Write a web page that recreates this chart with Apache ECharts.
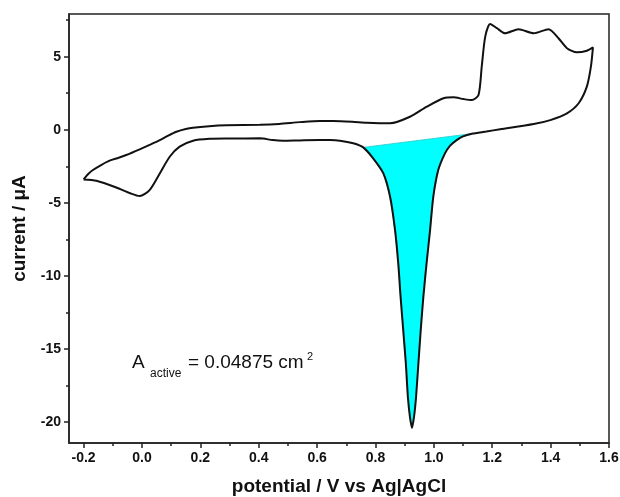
<!DOCTYPE html>
<html>
<head>
<meta charset="utf-8">
<script src="https://cdn.jsdelivr.net/npm/echarts@6/dist/echarts.min.js"></script>
<style>
  html, body { margin: 0; padding: 0; background: #fff; }
  #chart { width: 620px; height: 497px; }
</style>
</head>
<body>
<div id="chart"></div>
<script>
// 正向扫描 (anodic), 从 -0.2 V 开始
const anodicV = [-0.200, -0.185, -0.168, -0.140, -0.111, -0.080, -0.054, -0.008, 0.030, 0.061,
  0.090, 0.118, 0.150, 0.175, 0.230, 0.290, 0.404, 0.470, 0.541, 0.610,
  0.655, 0.720, 0.770, 0.850, 0.918, 0.976, 1.033, 1.067, 1.101, 1.130,
  1.153, 1.164, 1.176, 1.193, 1.216, 1.244, 1.290, 1.342, 1.393, 1.427,
  1.456, 1.490, 1.524, 1.545];
const anodicI = [-3.40, -3.05, -2.76, -2.42, -2.12, -1.92, -1.73, -1.34, -1.00, -0.71,
  -0.40, -0.14, 0.05, 0.14, 0.24, 0.30, 0.34, 0.40, 0.52, 0.60,
  0.60, 0.55, 0.48, 0.44, 0.89, 1.58, 2.15, 2.22, 2.10, 2.03,
  2.38, 4.32, 6.37, 7.24, 6.95, 6.60, 6.88, 6.60, 6.88, 6.26,
  5.58, 5.30, 5.41, 5.64];

// 反向扫描 (cathodic), 回到 -0.2 V
const cathodicV = [1.538, 1.524, 1.496, 1.456, 1.399, 1.342, 1.227, 1.180, 1.130, 1.100,
  1.078, 1.055, 1.038, 1.015, 0.998, 0.987, 0.975, 0.964, 0.955, 0.947,
  0.939, 0.932, 0.925, 0.918, 0.911, 0.904, 0.895, 0.886, 0.878, 0.867,
  0.850, 0.827, 0.792, 0.758, 0.724, 0.678, 0.644, 0.610, 0.540, 0.483,
  0.448, 0.404, 0.300, 0.232, 0.175, 0.129, 0.095, 0.061, 0.026, -0.008,
  -0.040, -0.088, -0.156, -0.200];
const cathodicI = [4.32, 2.95, 1.81, 1.12, 0.66, 0.39, 0.03, -0.12, -0.27, -0.45,
  -0.71, -1.10, -1.62, -2.76, -4.59, -6.87, -9.15, -11.44, -13.72, -16.00,
  -18.29, -19.66, -20.41, -19.66, -18.29, -16.00, -13.72, -11.44, -9.15, -6.87,
  -4.59, -2.99, -1.96, -1.21, -0.93, -0.75, -0.71, -0.71, -0.73, -0.75,
  -0.71, -0.59, -0.60, -0.62, -0.75, -1.16, -1.85, -2.99, -4.13, -4.54,
  -4.35, -3.95, -3.49, -3.40];

// 积分区域 (还原峰) 的电位范围
const fillFrom = 0.758;
const fillTo = 1.130;

// 刻度
const xMajor = [-0.2, 0.0, 0.2, 0.4, 0.6, 0.8, 1.0, 1.2, 1.4, 1.6];
const xMinor = [-0.1, 0.1, 0.3, 0.5, 0.7, 0.9, 1.1, 1.3, 1.5];
const yMajor = [-20, -15, -10, -5, 0, 5];
const yMinor = [-17.5, -12.5, -7.5, -2.5, 2.5, 7.5];

const loop = [];
anodicV.forEach((v, i) => loop.push([v, anodicI[i]]));
cathodicV.forEach((v, i) => loop.push([v, cathodicI[i]]));

const peakArea = [];
cathodicV.forEach((v, i) => {
  if (v >= fillFrom - 1e-9 && v <= fillTo + 1e-9) peakArea.push([v, cathodicI[i]]);
});

const FONT = "'Liberation Sans', Arial, Helvetica, sans-serif";
const INK = '#111';
const xRange = { min: -0.25, max: 1.6 };
const yRange = { min: -21.44, max: 7.92 };

const chart = echarts.init(document.getElementById('chart'));
chart.setOption({
  animation: false,
  backgroundColor: '#fff',
  grid: {
    left: 69, right: 11, top: 14, bottom: 54,
    show: true, borderColor: '#222', borderWidth: 1.5,
    outerBoundsMode: 'none'
  },
  xAxis: [
    {
      type: 'value', position: 'bottom', ...xRange,
      name: 'potential / V vs Ag|AgCl', nameLocation: 'middle', nameGap: 34,
      nameTextStyle: { fontFamily: FONT, fontWeight: 'bold', fontSize: 19, color: INK },
      axisLine: { show: true, onZero: false, lineStyle: { color: '#222', width: 1.5 } },
      axisTick: { show: true, inside: false, length: 5, customValues: xMajor, lineStyle: { color: '#222', width: 1.5 } },
      axisLabel: {
        customValues: xMajor, margin: 8,
        formatter: v => v.toFixed(1),
        fontFamily: FONT, fontWeight: 'bold', fontSize: 14, color: INK
      },
      splitLine: { show: false }
    },
    {
      type: 'value', position: 'bottom', ...xRange,
      axisLine: { show: false, onZero: false },
      axisTick: { show: true, inside: false, length: 3, customValues: xMinor, lineStyle: { color: '#222', width: 1.5 } },
      axisLabel: { show: false },
      splitLine: { show: false }
    }
  ],
  yAxis: [
    {
      type: 'value', position: 'left', ...yRange,
      name: 'current / \u03bcA', nameLocation: 'middle', nameGap: 40, nameRotate: 90,
      nameTextStyle: { fontFamily: FONT, fontWeight: 'bold', fontSize: 19, color: INK },
      axisLine: { show: true, onZero: false, lineStyle: { color: '#222', width: 1.5 } },
      axisTick: { show: true, inside: false, length: 5, customValues: yMajor, lineStyle: { color: '#222', width: 1.5 } },
      axisLabel: {
        customValues: yMajor, margin: 8,
        formatter: v => String(Math.round(v)),
        fontFamily: FONT, fontWeight: 'bold', fontSize: 14, color: INK
      },
      splitLine: { show: false }
    },
    {
      type: 'value', position: 'left', ...yRange,
      axisLine: { show: false, onZero: false },
      axisTick: { show: true, inside: false, length: 3, customValues: yMinor, lineStyle: { color: '#222', width: 1.5 } },
      axisLabel: { show: false },
      splitLine: { show: false }
    }
  ],
  series: [
    {
      // 还原峰面积 (青色填充)
      type: 'custom',
      xAxisIndex: 0, yAxisIndex: 0,
      data: peakArea,
      encode: { x: 0, y: 1 },
      z: 2,
      silent: true,
      renderItem: (params, api) => {
        if (params.dataIndex !== 0) return null;
        const pts = peakArea.map(p => api.coord(p));
        return {
          type: 'polygon',
          shape: { points: pts },
          style: { fill: '#00ffff', stroke: '#20c8c8', lineWidth: 0.8 }
        };
      }
    },
    {
      // 循环伏安曲线
      type: 'line',
      xAxisIndex: 0, yAxisIndex: 0,
      data: loop,
      showSymbol: false,
      smooth: 0.25,
      z: 3,
      lineStyle: { color: INK, width: 2 }
    }
  ],
  graphic: [
    { type: 'text', left: 132, top: 353, style: { text: 'A', font: '19px ' + FONT, fill: INK } },
    { type: 'text', left: 150, top: 368, style: { text: 'active', font: '12px ' + FONT, fill: INK } },
    { type: 'text', left: 188, top: 353, style: { text: '= 0.04875 cm', font: '19px ' + FONT, fill: INK } },
    { type: 'text', left: 307, top: 351, style: { text: '2', font: '11px ' + FONT, fill: INK } }
  ]
});
</script>
</body>
</html>
